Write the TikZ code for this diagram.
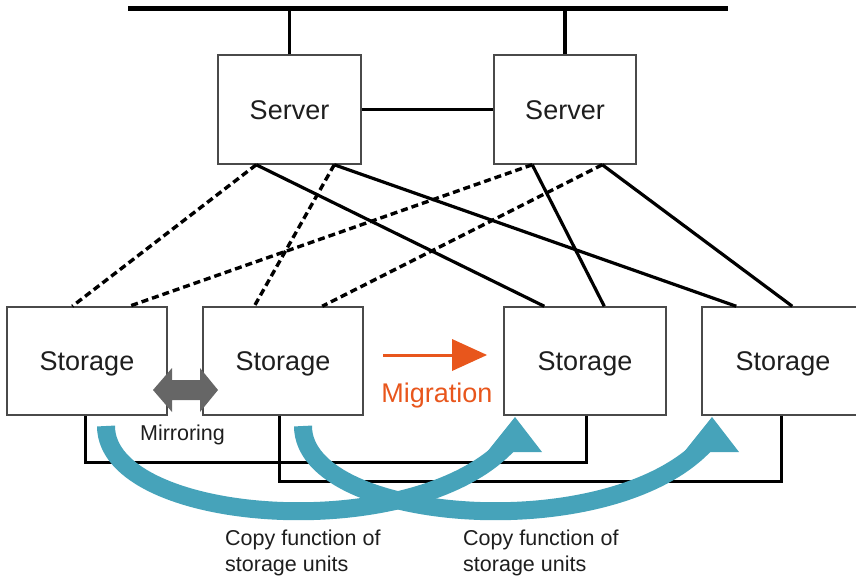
\documentclass[tikz,border=0pt]{standalone}
\usepackage{fontspec}
\setmainfont{Liberation Sans}
\definecolor{boxgray}{HTML}{4A4A4A}
\definecolor{txt}{HTML}{1E1E1E}
\definecolor{mirrgray}{HTML}{666666}
\definecolor{migorange}{HTML}{E8561C}
\definecolor{copyteal}{HTML}{46A3BA}
\begin{document}
\begin{tikzpicture}[x=1pt,y=-1pt,
  box/.style={draw=boxgray, line width=1.5pt, fill=white, text=txt,
    font=\fontsize{27}{32}\selectfont, text height=19.3pt, text depth=0pt, inner sep=0pt},
  conn/.style={line width=3.2pt, black},
  dconn/.style={line width=3.4pt, black, dash pattern=on 7pt off 4pt},
  busline/.style={line width=4.8pt, black},
  lnk/.style={line width=3pt, black},
  small/.style={font=\fontsize{21.5}{26}\selectfont, text=txt, inner sep=0pt},
  big/.style={font=\fontsize{27}{32}\selectfont, inner sep=0pt},
  copyarrow/.style={line width=18pt, copyteal}
]
\useasboundingbox (0,0) rectangle (856,576);
\clip (0,0) rectangle (856,576);

% boxes
\node[box, minimum width=143pt, minimum height=109pt] (srv1) at (289.5,109.5) {Server};
\node[box, minimum width=142pt, minimum height=109pt] (srv2) at (565,109.5) {Server};
\node[box, minimum width=160pt, minimum height=108pt] (st1) at (87,361) {Storage};
\node[box, minimum width=160pt, minimum height=108pt] (st2) at (283,361) {Storage};
\node[box, minimum width=162pt, minimum height=108pt] (st3) at (585,361) {Storage};
\node[box, minimum width=162pt, minimum height=108pt] (st4) at (783,361) {Storage};

% bus
\coordinate (busL) at (128,8.5);
\coordinate (busR) at (728,8.5);
\draw[busline] (busL) -- (busR);
\draw[conn] (srv1.north) -- (srv1.north |- busL);
\draw[conn] (srv2.north) -- (srv2.north |- busL);
\draw[conn] (srv1) -- (srv2);

% server to storage
\draw[dconn] ([xshift=39pt]srv1.south west) -- ([xshift=66pt]st1.north west);
\draw[conn]  ([xshift=39pt]srv1.south west) -- ([xshift=41pt]st3.north west);
\draw[dconn] ([xshift=117pt]srv1.south west) -- ([xshift=52pt]st2.north west);
\draw[conn]  ([xshift=117pt]srv1.south west) -- ([xshift=35pt]st4.north west);
\draw[dconn] ([xshift=39pt]srv2.south west) -- ([xshift=123pt]st1.north west);
\draw[conn]  ([xshift=39pt]srv2.south west) -- ([xshift=101pt]st3.north west);
\draw[dconn] ([xshift=109pt]srv2.south west) -- ([xshift=120pt]st2.north west);
\draw[conn]  ([xshift=109pt]srv2.south west) -- ([xshift=91pt]st4.north west);

% storage to storage links below
\draw[lnk] ([xshift=79pt]st1.south west) -- ++(0,47) -| ([xshift=83pt]st3.south west);
\draw[lnk] ([xshift=77pt]st2.south west) -- ++(0,66) -| ([xshift=80pt]st4.south west);

% mirroring arrow
\fill[mirrgray] (153,390) -- (172,368) -- (172,380) -- (200,380) -- (200,368) -- (218,390)
  -- (200,412) -- (200,400) -- (172,400) -- (172,412) -- cycle;
\node[small, anchor=base] (mirlbl) at (182.5,440) {Mirroring};

% migration arrow
\coordinate (migS) at (383,355);
\coordinate (migE) at (453,355);
\draw[line width=3pt, migorange] (migS) -- (migE);
\fill[migorange] (452,339) -- (487,355) -- (452,371) -- cycle;
\node[big, text=migorange, anchor=base] (miglbl) at (437,402) {Migration};

% copy arrows
\coordinate (c1s) at (106,426);
\coordinate (c1e) at (512,440);
\draw[copyarrow] (c1s) .. controls (106,525) and (420,548) .. (c1e);
\fill[copyteal] (487,452) -- (542,452) -- (515,417) -- cycle;
\begin{scope}[xshift=197pt]
\coordinate (c2s) at (106,426);
\coordinate (c2e) at (512,440);
\draw[copyarrow] (c2s) .. controls (106,525) and (420,548) .. (c2e);
\fill[copyteal] (487,452) -- (542,452) -- (515,417) -- cycle;
\end{scope}

% labels
\node[small, anchor=base west, align=left] (cpl1) at (225,571) {Copy function of\\storage units};
\node[small, anchor=base west, align=left] (cpl2) at (463,571) {Copy function of\\storage units};
\end{tikzpicture}
\end{document}
